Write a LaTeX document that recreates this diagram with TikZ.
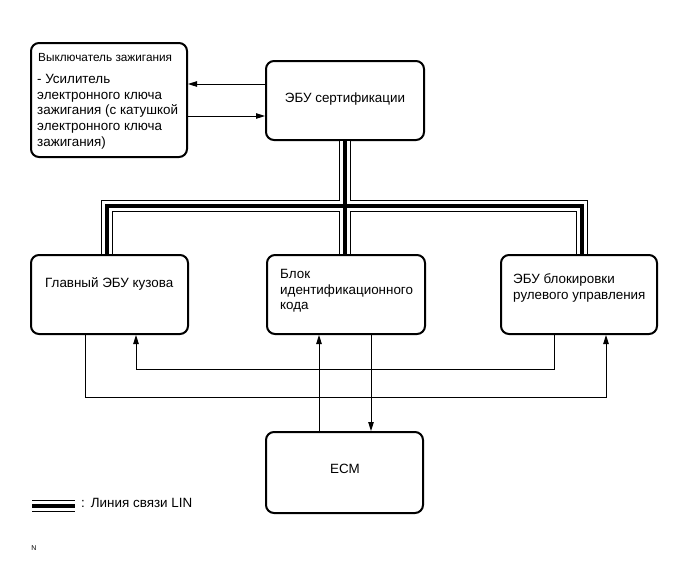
\documentclass[tikz,border=0pt]{standalone}
\usepackage{fontspec}
\setmainfont{Liberation Sans}
\usetikzlibrary{arrows.meta}
\newcommand{\mlines}[1]{\begin{tabular}[t]{@{}l@{}}#1\end{tabular}}
\begin{document}
\begin{tikzpicture}[x=1pt,y=-1pt,
  box/.style={draw, line width=2pt, rounded corners=8pt, fill=white, inner sep=0pt, outer sep=1pt},
  lbl/.style={inner sep=0pt, anchor=base west, font=\fontsize{13.4}{15.7}\selectfont},
  clbl/.style={inner sep=0pt, font=\fontsize{13.4}{15.7}\selectfont},
  arr/.style={line width=0.9pt, -{Triangle[length=9pt,width=5.5pt]}},
  wire/.style={line width=0.9pt}]
\useasboundingbox (0,0) rectangle (690,562);

% boxes
\node[box, minimum width=156pt, minimum height=114pt] (ign) at (109,100) {};
\node[box, minimum width=158pt, minimum height=79pt] (cert) at (345,100.5) {};
\node[box, minimum width=157pt, minimum height=79pt] (body) at (109.5,294.5) {};
\node[box, minimum width=158pt, minimum height=79pt] (idc) at (346,294.5) {};
\node[box, minimum width=156pt, minimum height=79pt] (steer) at (579,294.5) {};
\node[box, minimum width=157pt, minimum height=81pt] (ecm) at (344.5,472.5) {};

% texts
\node[lbl, font=\fontsize{11.8}{14}\selectfont] (t0) at (38,61) {Выключатель зажигания};
\node[lbl] (t1) at (37,83.5) {\mlines{- Усилитель\\электронного ключа\\зажигания (с катушкой\\электронного ключа\\зажигания)}};
\node[clbl] (t2) at (345,99) {ЭБУ сертификации};
\node[lbl] (t3) at (45,287.5) {Главный ЭБУ кузова};
\node[lbl] (t4) at (280,278.5) {\mlines{Блок\\идентификационного\\кода}};
\node[lbl] (t5) at (513,283.5) {\mlines{ЭБУ блокировки\\рулевого управления}};
\node[clbl] (t6) at (345,469) {ECM};

% bus coordinates
\coordinate (bL) at (107,206);
\coordinate (bM) at (345,206);
\coordinate (bR) at (582,206);
\coordinate (lg1) at (32,506);
\coordinate (lg2) at (75,506);

\foreach \w/\c in {12/black,10/white,3.6/black}{
  \draw[line width=\w pt, draw=\c, line join=miter, line cap=butt] (cert.south) -- (bM);
  \draw[line width=\w pt, draw=\c, line join=miter, line cap=butt] (bL |- body.north) -- (bL) -- (bR) -- (bR |- steer.north);
  \draw[line width=\w pt, draw=\c, line join=miter, line cap=butt] (bM) -- (bM |- idc.north);
  \draw[line width=\w pt, draw=\c, line cap=butt] (lg1) -- (lg2);
}

% ignition arrows
\coordinate (a1) at (0,84);
\coordinate (a2) at (0,116);
\draw[arr] (cert.west |- a1) -- (ign.east |- a1);
\draw[arr] (ign.east |- a2) -- (cert.west |- a2);

% lower connections
\coordinate (p1) at (85,397);
\coordinate (p2) at (606,397);
\draw[arr] (body.south -| p1) -- (p1) -- (p2) -- (steer.south -| p2);
\coordinate (q1) at (554,369);
\coordinate (q2) at (136,369);
\draw[arr] (steer.south -| q1) -- (q1) -- (q2) -- (body.south -| q2);
\coordinate (r1) at (319,0);
\coordinate (r2) at (371,0);
\draw[arr] (ecm.north -| r1) -- (idc.south -| r1);
\draw[arr] (idc.south -| r2) -- (ecm.north -| r2);

% legend
\node[lbl] (leg) at (81,507.5) {:\hspace{6pt}Линия связи LIN};
\node[inner sep=0pt, font=\fontsize{7}{8}\selectfont] (nn) at (34,548) {N};
\end{tikzpicture}
\end{document}
